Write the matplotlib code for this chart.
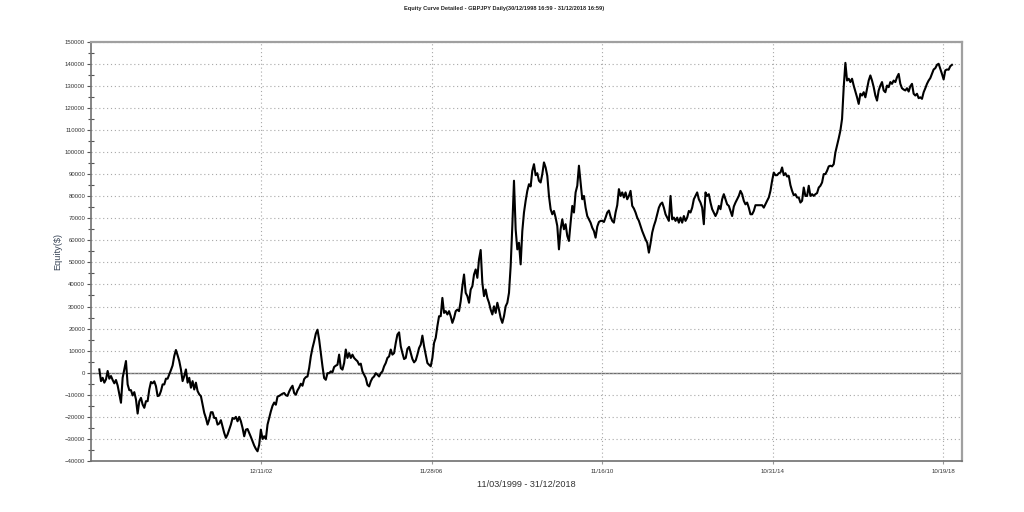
import numpy as np
import pandas as pd
import matplotlib
matplotlib.use("Agg")
import matplotlib.pyplot as plt
import matplotlib.dates as mdates
from matplotlib.ticker import MultipleLocator

# equity values, evenly spaced in time
eq_1999_2002 = [
    1500, -3800, -2300, -4500, -3000, 800, -2700, -1500, -3300, -4800,
    -3300, -5800, -9800, -13600, -2300, 1500, 5300, -5300, -7900, -7900,
    -10300, -8800, -12100, -18500, -12900, -11400, -14400, -15900, -12900, -12900,
    -7600, -4200, -4800, -3900, -6100, -10600, -10300, -8300, -5300, -5300,
    -2700, -2700, -800, 1200, 3300, 7600, 10300, 7900, 5300, 1500,
    -3800, -1500, 1500, -4500, -2300, -6800, -3800, -7600, -4500, -8300,
    -9800, -10600, -14400, -18200, -20500, -23500, -21200, -17900, -17900, -20500,
    -20500, -23500, -23000, -21500, -24500, -27300, -29500, -28000, -25800, -23500,
    -20500, -20900, -20000, -22000, -20000, -22000, -25000, -28800, -25800, -25500,
    -27300, -29100, -31100, -33000, -34500, -35600, -32600, -25800, -30000, -28800,
    -30000, -23500]
eq_2003_2006 = [
    -20500, -17500, -15000, -13500, -14500,
    -10800, -10500, -10000, -9500, -9200, -10200, -10500, -8500, -7000, -5900,
    -9200, -10000, -8000, -6700, -5000, -5900, -2900, -2000, -1700, 2100,
    7400, 11200, 14200, 17700, 19500, 15000, 8900, 2900, -2400, -3200,
    -200, -200, 600, 200, 2600, 3200, 3600, 8200, 2100, 1400,
    4400, 10500, 6700, 8900, 6700, 8200, 6700, 5900, 5200, 3600,
    4100, 600, -900, -2400, -5500, -6200, -3900, -2400, -1700, -200,
    -900, -1700, -200, 600, 2900, 4400, 6700, 7400, 10500, 8200,
    8900, 13500, 17300, 18300, 12000, 8900, 6200, 6700, 10800, 11700,
    8900, 6200, 4700, 5600, 8200, 11200, 12700, 16800, 12000, 8200,
    4400, 3600, 2900, 6700, 13500, 15800, 21100, 25600]
eq_2007_2010 = [
    25600, 33900, 27100, 27900, 26400, 27900, 25600, 22600, 24800, 27900,
    28600, 27900, 32400, 39200, 44500, 36200, 34700, 31700, 37700, 39200,
    44500, 46800, 43000, 51400, 55600, 40800, 34700, 37700, 33900, 31700,
    28600, 26400, 30100, 27100, 31700, 28600, 24800, 22600, 25600, 30100,
    31700, 36200, 48300, 66500, 87000, 65000, 55900, 58900, 49100, 64200,
    72600, 77900, 82400, 85400, 84400, 91500, 94500, 89500, 90400, 87000,
    86200, 90000, 95300, 93000, 89200, 80100, 74100, 71800, 73300, 70300,
    66500, 55900, 65000, 69500, 65000, 67300, 62000, 59700, 68000, 75600,
    72600, 81700, 84700, 93800]
eq_2011_2014 = [
    86200, 78600, 80100, 74800, 71000, 69500, 68000, 65700, 64200, 61200,
    66200, 68300, 68800, 68800, 68300, 70300, 72600, 73500, 70700, 68800,
    68000, 72600, 75900, 83200, 80100, 81700, 79400, 81700, 78600, 80100,
    82400, 75600, 74400, 72600, 70300, 68800, 66500, 64200, 62300, 60400,
    58900, 54400, 58600, 63500, 66500, 68800, 71800, 74800, 76400, 77100,
    74800, 71800, 70300, 68800, 80100, 69500, 70300, 68800, 70300, 68000,
    70300, 68000, 71000, 68800, 70300, 73300, 72600, 74800, 78600, 80100,
    81700, 78600, 77100, 74800, 67300, 81700, 80100, 80900, 77100, 74100,
    72600, 71000, 72600, 75600, 74100, 78600, 80900, 78600, 76300, 75600,
    73300, 71000, 75300, 77100, 78600, 80100, 82400, 80900, 77900, 76300,
    77100, 74800, 71800, 71800, 73300, 75900, 75900, 75900, 75900, 75900,
    74800, 76400, 77900, 79400, 82400, 87000, 90700, 89500]
eq_2015_2018 = [
    89500, 90400, 90700, 93000, 89500, 90400, 88900, 89200, 85000, 82400,
    80400, 80900, 79400, 79400, 77100, 77900, 83900, 80100, 80100, 84700,
    80100, 80900, 80100, 80900, 81400, 83900, 84700, 86200, 90000, 90000,
    91500, 93500, 93800, 93500, 94500, 99800, 102900, 106200, 109700, 115000,
    129400, 140400, 132400, 133200, 131700, 133200, 130100, 127400, 124800, 121800,
    126400, 125600, 127100, 124800, 128600, 132400, 134700, 132400, 129400, 125600,
    123300, 127900, 130100, 131700, 127900, 127100, 130100, 129400, 131700, 130900,
    132400, 131700, 133900, 135400, 130900, 128900, 128300, 127900, 128900, 127400,
    129800, 130900, 126400, 125600, 126400, 124400, 124800, 124100, 127100, 128900,
    130900, 132400, 133500, 135400, 137400, 138000, 139500, 140000, 137700, 135400,
    132900, 137000, 137400, 137300, 138900, 139500]

first_day = "1999-03-11"
last_day = "2018-12-31"
tick_days = ["2002-12-11", "2006-11-28", "2010-11-16", "2014-10-31", "2018-10-19"]

equity = np.array(eq_1999_2002 + eq_2003_2006 + eq_2007_2010 + eq_2011_2014 + eq_2015_2018)
dates = pd.date_range(first_day, last_day, periods=len(equity))

plt.rcParams['font.family'] = ['Liberation Sans', 'DejaVu Sans']

fig = plt.figure(figsize=(10.24, 5.12), dpi=100)
ax = fig.add_axes([0.0886, 0.0996, 0.8506, 0.819])

ax.plot(dates, equity, color='black', lw=1.5)
ax.axhline(0, color='#6e6e6e', lw=1.0, zorder=1)

ax.set_xlim(pd.Timestamp("1998-12-28"), pd.Timestamp("2019-03-24"))
ax.set_ylim(-40000, 150000)
ax.yaxis.set_major_locator(MultipleLocator(10000))
ax.yaxis.set_minor_locator(MultipleLocator(5000))
ax.set_xticks(pd.to_datetime(tick_days))
ax.xaxis.set_major_formatter(mdates.DateFormatter('%m/%d/%y'))

ax.grid(True, which='major', color='#a8a8a8', ls=(0, (1, 2.5)), lw=0.8)

ax.tick_params(axis='y', which='major', labelsize=4.3, length=3, width=0.8,
               color='#555555', labelcolor='#333333', pad=1)
ax.tick_params(axis='y', which='minor', length=4, direction='inout', width=0.8, color='#555555')
ax.tick_params(axis='x', which='major', labelsize=4.4, length=2, width=0.8,
               color='#999999', labelcolor='#333333', pad=4)

for side in ['left', 'bottom']:
    ax.spines[side].set_color('#707070')
    ax.spines[side].set_linewidth(1.2)
for side in ['top', 'right']:
    ax.spines[side].set_color('#a0a0a0')
    ax.spines[side].set_linewidth(1.6)

ax.set_ylabel('Equity($)', fontsize=6.6, color='#3a4658', labelpad=2)
ax.set_xlabel('11/03/1999 - 31/12/2018', fontsize=6.6, color='#333333', labelpad=4)

fig.text(0.492, 0.983, 'Equity Curve Detailed - GBPJPY Daily(30/12/1998 16:59 - 31/12/2018 16:59)',
         ha='center', va='center', fontsize=4.1, fontweight='bold', color='#222222')

fig.savefig('out.png', dpi=100)
